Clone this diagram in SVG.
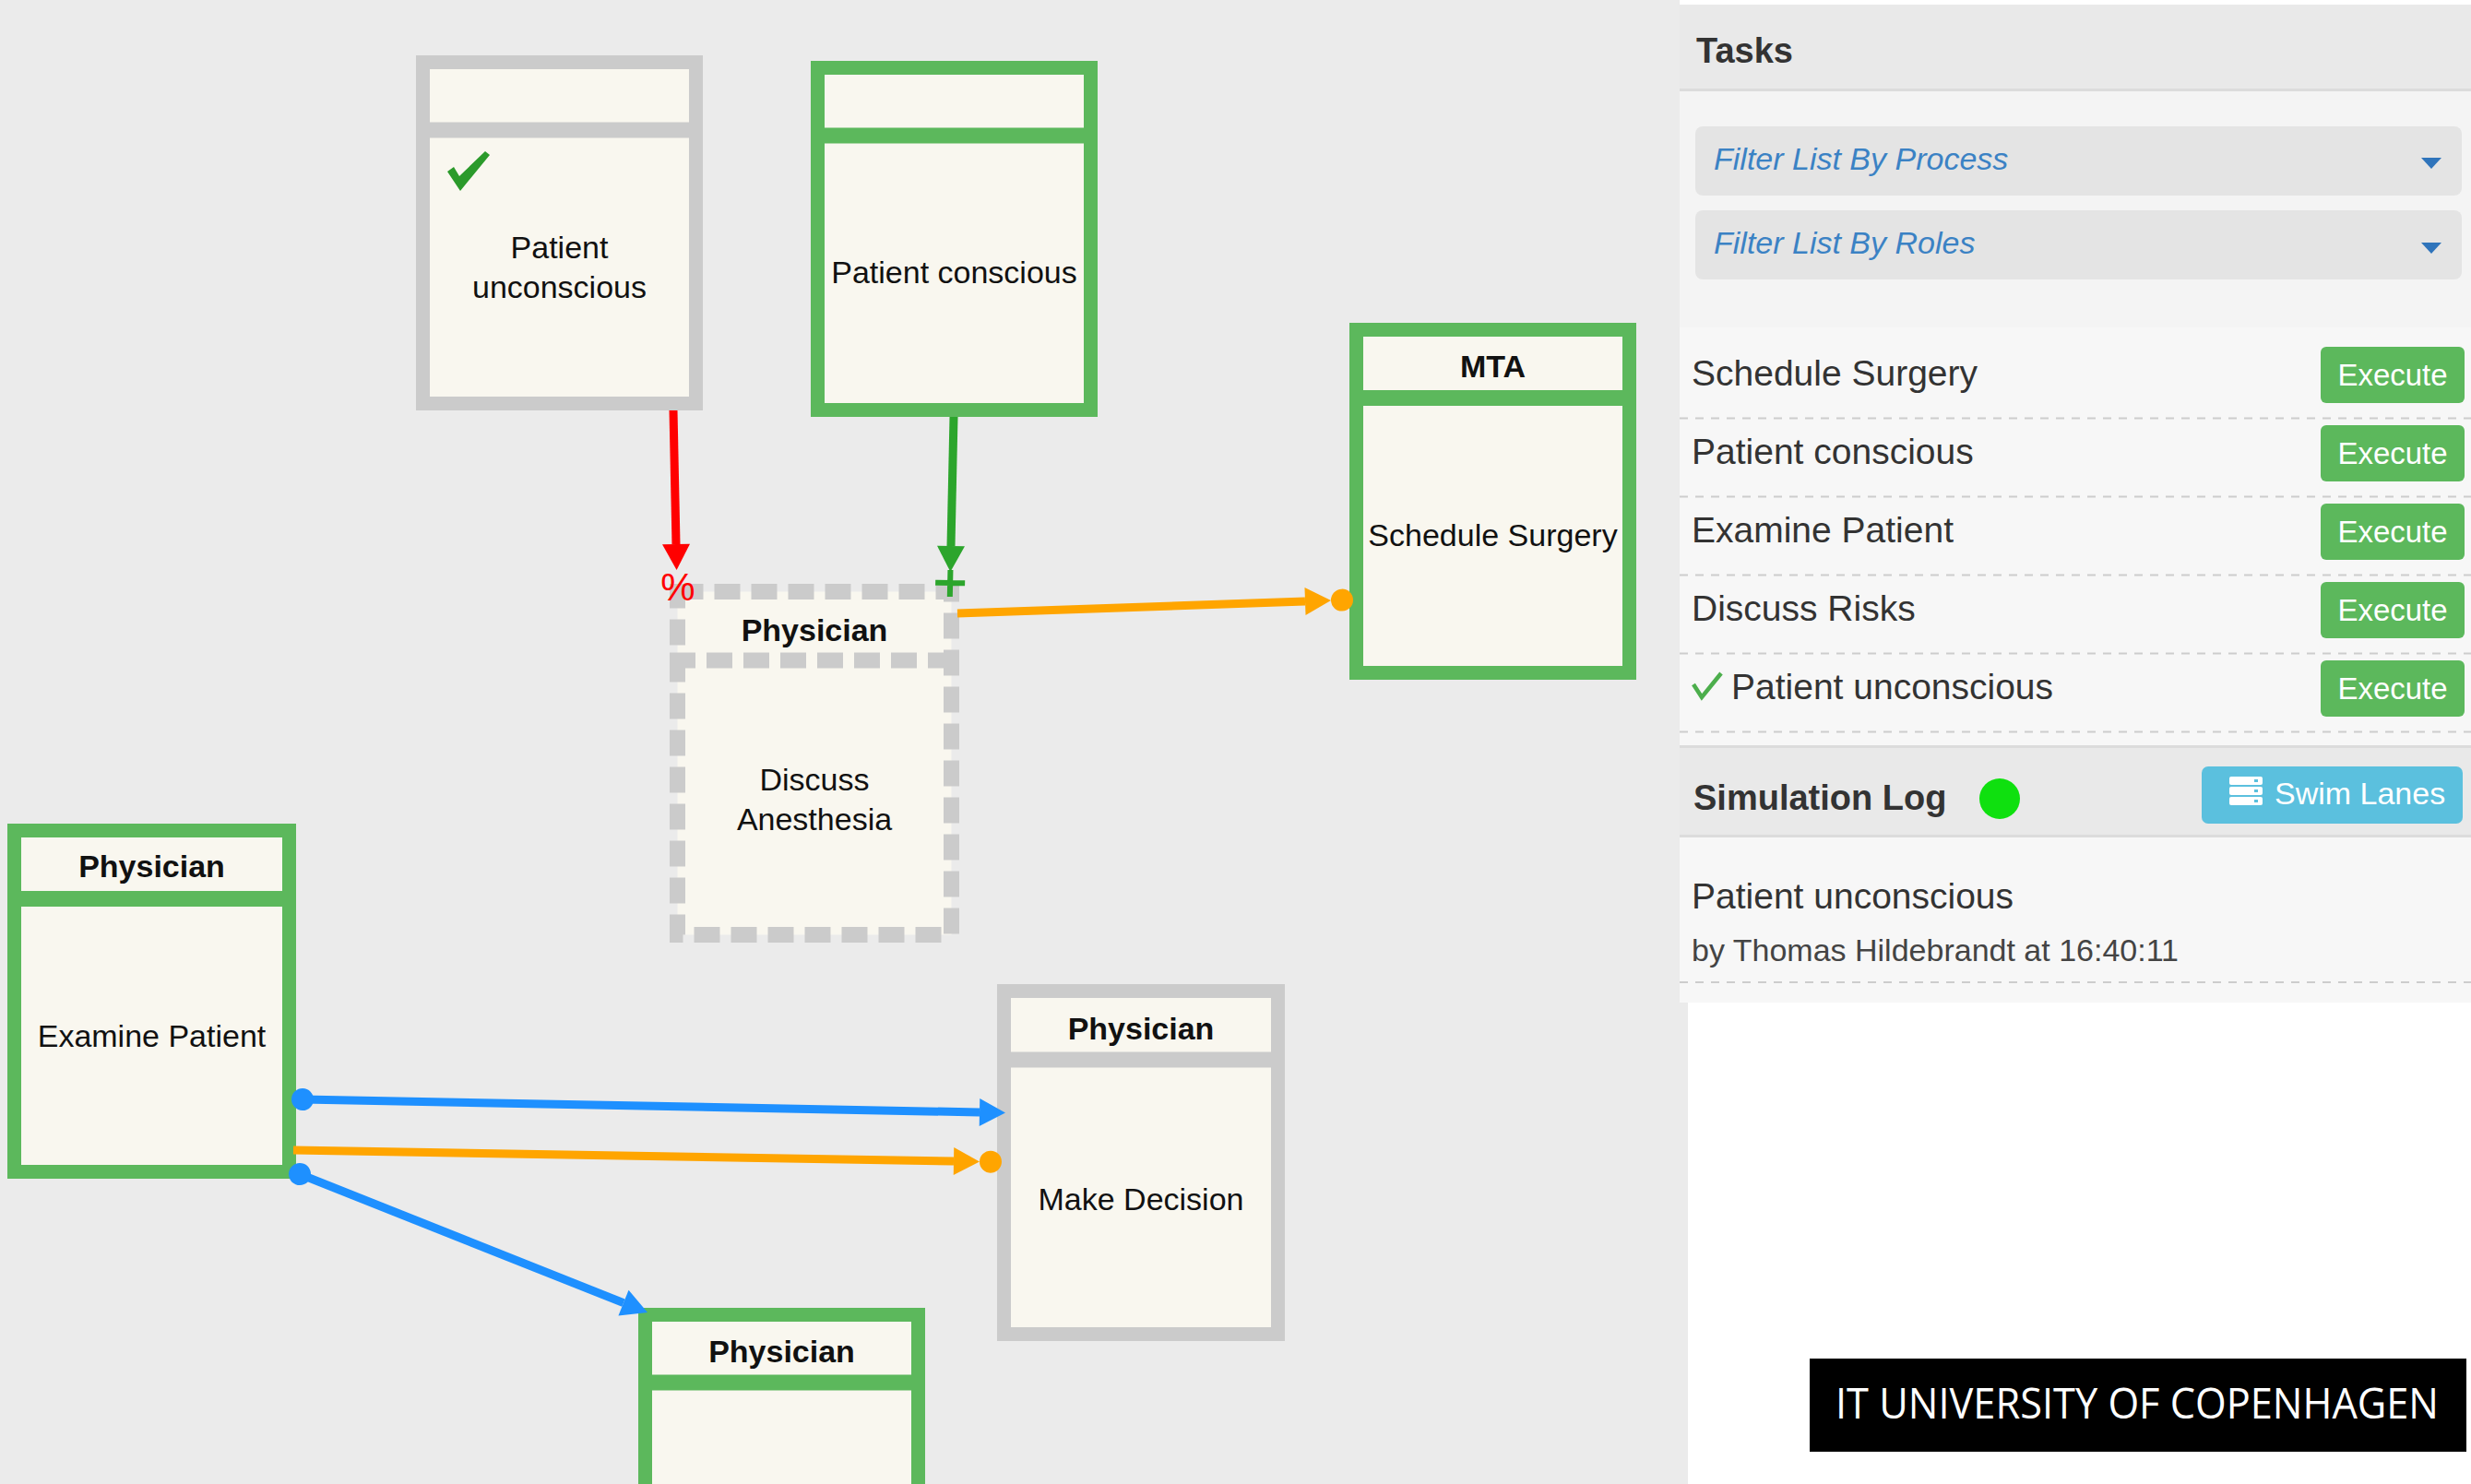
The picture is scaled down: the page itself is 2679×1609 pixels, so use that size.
<svg xmlns="http://www.w3.org/2000/svg" width="2679" height="1609" viewBox="0 0 2679 1609">
  <style>
    text { font-family: "Liberation Sans", Arial, sans-serif; }
    .frame { fill: #f9f7ef; stroke-width: 15; }
    .divider { stroke-width: 17; }
    .green .frame, .green .divider { stroke: #5cb85c; }
    .gray .frame, .gray .divider { stroke: #cbcbcb; }
    .dashed .frame, .dashed .divider { stroke: #cbcbcb; stroke-width: 17; stroke-dasharray: 28 12; }
    .role { font-size: 34px; font-weight: bold; fill: #111; text-anchor: middle; }
    .label { font-size: 34px; fill: #111; text-anchor: middle; }
    .conn { fill: none; stroke-width: 9; }
    .red { stroke: #ff0000; }
    .grn { stroke: #2ca52c; }
    .orange { stroke: #ffa500; }
    .blue { stroke: #1e90ff; }
    .head { font-size: 38px; font-weight: bold; fill: #333; }
    .task { font-size: 39px; fill: #333; }
    .filter { fill: #e4e4e4; }
    .filter-text { font-size: 34px; font-style: italic; fill: #3b82c4; }
    .caret { fill: #2f74bb; }
    .btn { fill: #5cb85c; }
    .btn-text { font-size: 33px; fill: #ffffff; text-anchor: middle; }
    .sep { stroke: #cdcdcd; stroke-width: 2; stroke-dasharray: 9 8; }
    .brand { font-family: "Open Sans", "Liberation Sans", sans-serif; font-size: 45px; fill: #ffffff; }
  </style>
  <defs>
    <marker id="arrow-red" markerUnits="userSpaceOnUse" viewBox="0 0 28 30" markerWidth="28" markerHeight="30" refX="0" refY="15" orient="auto" overflow="visible">
      <path d="M0,0 L28,15 L0,30 Z" fill="#ff0000"/>
    </marker>
    <marker id="arrow-plus-green" markerUnits="userSpaceOnUse" viewBox="0 0 28 30" markerWidth="28" markerHeight="30" refX="0" refY="15" orient="auto" overflow="visible">
      <path d="M0,0 L28,15 L0,30 Z" fill="#2ca52c"/>
      <path d="M26,15 L55,15 M40,-1 L40,31" stroke="#2ca52c" stroke-width="6" fill="none"/>
    </marker>
    <marker id="arrow-dot-orange" markerUnits="userSpaceOnUse" viewBox="0 0 28 30" markerWidth="28" markerHeight="30" refX="0" refY="15" orient="auto" overflow="visible">
      <path d="M0,0 L28,15 L0,30 Z" fill="#ffa500"/>
      <circle cx="40" cy="15" r="12" fill="#ffa500"/>
    </marker>
    <marker id="arrow-blue" markerUnits="userSpaceOnUse" viewBox="0 0 28 30" markerWidth="28" markerHeight="30" refX="0" refY="15" orient="auto" overflow="visible">
      <path d="M0,0 L28,15 L0,30 Z" fill="#1e90ff"/>
    </marker>
    <marker id="dot-blue" markerUnits="userSpaceOnUse" viewBox="0 0 24 24" markerWidth="24" markerHeight="24" refX="12" refY="12" orient="auto" overflow="visible">
      <circle cx="12" cy="12" r="12" fill="#1e90ff"/>
    </marker>
  </defs>

  <!-- canvas -->
  <rect x="0" y="0" width="2679" height="1609" fill="#ebebeb"/>

  <!-- side panel -->
  <g id="panel">
    <rect x="1821" y="0" width="858" height="5" fill="#ffffff"/>
    <rect x="1821" y="5" width="858" height="92" fill="#e9e9e9"/>
    <rect x="1821" y="96" width="858" height="3" fill="#dcdcdc"/>
    <rect x="1821" y="99" width="858" height="256" fill="#f4f4f4"/>
    <rect x="1821" y="355" width="858" height="455" fill="#f7f7f7"/>
    <text class="head" x="1839" y="68">Tasks</text>

    <rect class="filter" x="1838" y="137" width="831" height="75" rx="8"/>
    <text class="filter-text" x="1858" y="184">Filter List By Process</text>
    <polygon class="caret" points="2625,171 2647,171 2636,183"/>
    <rect class="filter" x="1838" y="228" width="831" height="75" rx="8"/>
    <text class="filter-text" x="1858" y="275">Filter List By Roles</text>
    <polygon class="caret" points="2625,263 2647,263 2636,275"/>

    <text class="task" x="1834" y="418">Schedule Surgery</text>
    <rect class="btn" x="2516" y="376" width="156" height="61" rx="6"/>
    <text class="btn-text" x="2594" y="418">Execute</text>
    <line class="sep" x1="1821" y1="453.5" x2="2679" y2="453.5"/>

    <text class="task" x="1834" y="503">Patient conscious</text>
    <rect class="btn" x="2516" y="461" width="156" height="61" rx="6"/>
    <text class="btn-text" x="2594" y="503">Execute</text>
    <line class="sep" x1="1821" y1="538.5" x2="2679" y2="538.5"/>

    <text class="task" x="1834" y="588">Examine Patient</text>
    <rect class="btn" x="2516" y="546" width="156" height="61" rx="6"/>
    <text class="btn-text" x="2594" y="588">Execute</text>
    <line class="sep" x1="1821" y1="623.5" x2="2679" y2="623.5"/>

    <text class="task" x="1834" y="673">Discuss Risks</text>
    <rect class="btn" x="2516" y="631" width="156" height="61" rx="6"/>
    <text class="btn-text" x="2594" y="673">Execute</text>
    <line class="sep" x1="1821" y1="708.5" x2="2679" y2="708.5"/>

    <path d="M1836,742 L1845,756 L1866,730" fill="none" stroke="#4cae4c" stroke-width="4.5"/>
    <text class="task" x="1877" y="758">Patient unconscious</text>
    <rect class="btn" x="2516" y="716" width="156" height="61" rx="6"/>
    <text class="btn-text" x="2594" y="758">Execute</text>
    <line class="sep" x1="1821" y1="793.5" x2="2679" y2="793.5"/>

    <!-- simulation log -->
    <rect x="1821" y="808" width="858" height="3" fill="#dcdcdc"/>
    <rect x="1821" y="811" width="858" height="95" fill="#e9e9e9"/>
    <rect x="1821" y="905" width="858" height="3" fill="#dcdcdc"/>
    <rect x="1821" y="908" width="858" height="179" fill="#f7f7f7"/>
    <text class="head" x="1836" y="878">Simulation Log</text>
    <circle cx="2168" cy="866" r="22" fill="#0fe00f"/>
    <rect x="2387" y="831" width="283" height="62" rx="7" fill="#5bc0de"/>
    <g fill="#ffffff">
      <rect x="2417" y="842" width="36" height="9" rx="2"/>
      <rect x="2417" y="853" width="36" height="9" rx="2"/>
      <rect x="2417" y="864" width="36" height="9" rx="2"/>
    </g>
    <g fill="#5bc0de">
      <rect x="2444" y="845" width="4" height="3"/>
      <rect x="2444" y="856" width="4" height="3"/>
      <rect x="2444" y="867" width="4" height="3"/>
    </g>
    <text x="2466" y="872" font-size="34" fill="#ffffff">Swim Lanes</text>
    <text class="task" x="1834" y="985" font-size="40">Patient unconscious</text>
    <text x="1834" y="1042" font-size="34" fill="#444">by Thomas Hildebrandt at 16:40:11</text>
    <line class="sep" x1="1821" y1="1065" x2="2679" y2="1065"/>

    <rect x="1830" y="1087" width="849" height="522" fill="#ffffff"/>
    <rect x="1962" y="1473" width="712" height="101" fill="#000000"/>
    <text class="brand" x="1990" y="1538" textLength="654" lengthAdjust="spacingAndGlyphs">IT UNIVERSITY OF COPENHAGEN</text>
  </g>

  <!-- activities -->
  <g id="node-patient-unconscious" class="gray" transform="translate(451,60)">
    <rect class="frame" x="7.5" y="7.5" width="296" height="370"/>
    <line class="divider" x1="0" y1="81" x2="311" y2="81"/>
    <path d="M34,126 L41,121 L47,131 L75,104 L80,108 L48,147 Z" fill="#2b9a2b"/>
    <text class="label" x="155.5" y="220">Patient</text>
    <text class="label" x="155.5" y="263">unconscious</text>
  </g>

  <g id="node-patient-conscious" class="green" transform="translate(879,66)">
    <rect class="frame" x="7.5" y="7.5" width="296" height="371"/>
    <line class="divider" x1="0" y1="81" x2="311" y2="81"/>
    <text class="label" x="155.5" y="241">Patient conscious</text>
  </g>

  <g id="node-discuss-anesthesia" class="dashed" transform="translate(726,633)">
    <rect class="frame" x="8.5" y="8.5" width="297" height="372"/>
    <line class="divider" x1="0" y1="83" x2="314" y2="83"/>
    <text class="role" x="157" y="62">Physician</text>
    <text class="label" x="157" y="224">Discuss</text>
    <text class="label" x="157" y="267">Anesthesia</text>
  </g>

  <g id="node-schedule-surgery" class="green" transform="translate(1463,350)">
    <rect class="frame" x="7.5" y="7.5" width="296" height="372"/>
    <line class="divider" x1="0" y1="81.5" x2="311" y2="81.5"/>
    <text class="role" x="155.5" y="59">MTA</text>
    <text class="label" x="155.5" y="242">Schedule Surgery</text>
  </g>

  <g id="node-examine-patient" class="green" transform="translate(8,893)">
    <rect class="frame" x="7.5" y="7.5" width="298" height="370"/>
    <line class="divider" x1="0" y1="81.5" x2="313" y2="81.5"/>
    <text class="role" x="156.5" y="58">Physician</text>
    <text class="label" x="156.5" y="242">Examine Patient</text>
  </g>

  <g id="node-make-decision" class="gray" transform="translate(1081,1067)">
    <rect class="frame" x="7.5" y="7.5" width="297" height="372"/>
    <line class="divider" x1="0" y1="82" x2="312" y2="82"/>
    <text class="role" x="156" y="60">Physician</text>
    <text class="label" x="156" y="245">Make Decision</text>
  </g>

  <g id="node-physician-lower" class="green" transform="translate(692,1418)">
    <rect class="frame" x="7.5" y="7.5" width="296" height="372"/>
    <line class="divider" x1="0" y1="81" x2="311" y2="81"/>
    <text class="role" x="155.5" y="59">Physician</text>
  </g>

  <!-- relations -->
  <g id="connectors">
    <line class="conn red" x1="730" y1="445" x2="733" y2="590" marker-end="url(#arrow-red)"/>
    <text x="735" y="651" font-size="42" fill="#ff0000" text-anchor="middle">%</text>
    <line class="conn grn" x1="1034" y1="452" x2="1031" y2="592" marker-end="url(#arrow-plus-green)"/>
    <line class="conn orange" x1="1038" y1="665" x2="1415" y2="652" marker-end="url(#arrow-dot-orange)"/>
    <line class="conn blue" x1="328" y1="1192" x2="1062" y2="1206" marker-start="url(#dot-blue)" marker-end="url(#arrow-blue)"/>
    <line class="conn orange" x1="318" y1="1247" x2="1034" y2="1259" marker-end="url(#arrow-dot-orange)"/>
    <line class="conn blue" x1="325" y1="1273" x2="676" y2="1412.6" marker-start="url(#dot-blue)" marker-end="url(#arrow-blue)"/>
  </g>
</svg>
